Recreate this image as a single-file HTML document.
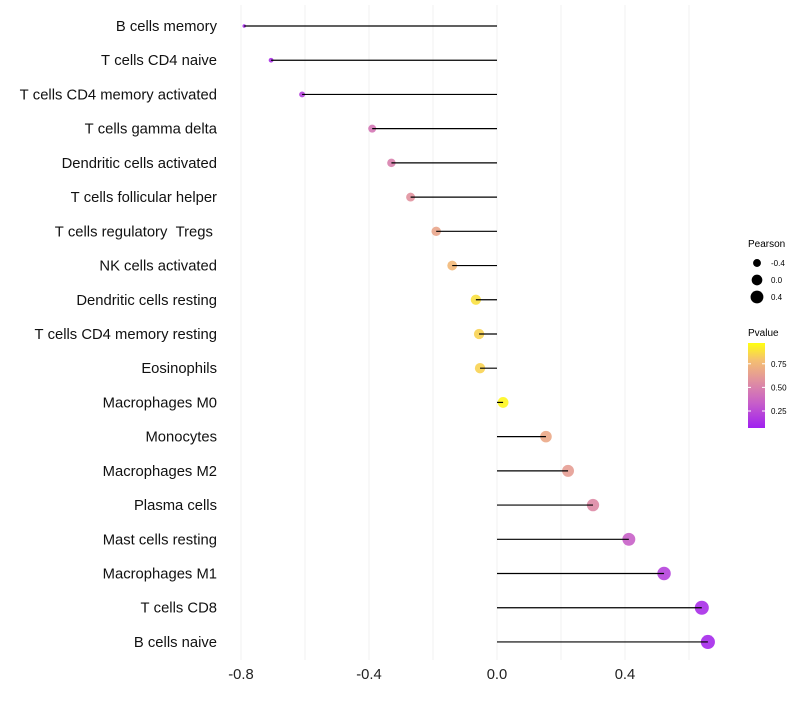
<!DOCTYPE html>
<html><head><meta charset="utf-8"><style>
body{margin:0;background:#fff;font-family:"Liberation Sans",sans-serif}
</style></head><body>
<svg id="c" width="800" height="700" xmlns="http://www.w3.org/2000/svg">
<defs><linearGradient id="pg" x1="0" y1="1" x2="0" y2="0">
<stop offset="0" stop-color="#a020f0"/><stop offset="0.3" stop-color="#c860c8"/><stop offset="0.55" stop-color="#e090a0"/><stop offset="0.8" stop-color="#f5c070"/><stop offset="1" stop-color="#ffff10"/></linearGradient></defs>
</svg>
<script>
const categories=["B cells memory","T cells CD4 naive","T cells CD4 memory activated","T cells gamma delta","Dendritic cells activated","T cells follicular helper","T cells regulatory  Tregs ","NK cells activated","Dendritic cells resting","T cells CD4 memory resting","Eosinophils","Macrophages M0","Monocytes","Macrophages M2","Plasma cells","Mast cells resting","Macrophages M1","T cells CD8","B cells naive"];
const pearson=[-0.79,-0.706,-0.609,-0.39,-0.33,-0.27,-0.19,-0.14,-0.066,-0.056,-0.053,0.019,0.153,0.222,0.30,0.412,0.522,0.64,0.659];
const pvalue=[0.04,0.08,0.15,0.42,0.47,0.56,0.66,0.76,0.9,0.86,0.86,0.97,0.68,0.62,0.52,0.3,0.16,0.06,0.04];
const xTicks=[-0.8,-0.4,0.0,0.4];
const gridVals=[-0.8,-0.6,-0.4,-0.2,0,0.2,0.4,0.6];
const sizeLegend=[-0.4,0.0,0.4];
const pTicks=[0.25,0.5,0.75];
const svg=document.getElementById('c');const NS='http://www.w3.org/2000/svg';
const X=v=>497+v*320;const Y=i=>26+i*34.22;const R=v=>Math.sqrt(Math.max(1.5,28.5+32.2*v));
const PY=p=>428-(p-0.07)/0.9*85;
function col(p){const st=[[0,[160,32,240]],[0.3,[200,96,200]],[0.55,[224,144,160]],[0.8,[245,192,112]],[1,[255,255,16]]];
for(let k=1;k<st.length;k++){if(p<=st[k][0]){const a=st[k-1],b=st[k],t=(p-a[0])/(b[0]-a[0]);return 'rgb('+a[1].map((c,j)=>Math.round(c+(b[1][j]-c)*t)).join(',')+')';}}return 'rgb(255,255,16)';}
function el(t,a,txt){const e=document.createElementNS(NS,t);for(const k in a)e.setAttribute(k,a[k]);if(txt!==undefined)e.textContent=txt;svg.appendChild(e);return e;}
gridVals.forEach(v=>{const g=el('line',{x1:X(v),x2:X(v),y1:5,y2:660,stroke:'#f2f2f2','stroke-width':1});

});
xTicks.forEach(v=>{const t=el('text',{x:X(v),y:679,'text-anchor':'middle','font-size':14.8,fill:'#222'},v.toFixed(1));

});
categories.forEach((c,i)=>{const t=el('text',{x:217,y:Y(i)+5,'text-anchor':'end','font-size':14.8,fill:'#111'},c.replace(/ /g,'\u00a0'));


const d=el('circle',{cx:X(pearson[i]),cy:Y(i),r:R(pearson[i]),fill:col(pvalue[i]),'fill-opacity':0.9});


const l=el('line',{x1:X(0),x2:X(pearson[i]),y1:Y(i),y2:Y(i),stroke:'#000','stroke-width':1.2});

});
let t=el('text',{x:748,y:247,'font-size':10},'Pearson');


sizeLegend.forEach((v,k)=>{const y=263+k*17;const c=el('circle',{cx:757,cy:y,r:R(v),fill:'#000'});


const tt=el('text',{x:771,y:y+3,'font-size':8},v.toFixed(1));

});
t=el('text',{x:748,y:336,'font-size':10},'Pvalue');


const bar=el('rect',{x:748,y:343,width:17,height:85,fill:'url(#pg)'});


pTicks.forEach(p=>{const y=PY(p);el('line',{x1:748,x2:751,y1:y,y2:y,stroke:'#fff'});el('line',{x1:762,x2:765,y1:y,y2:y,stroke:'#fff'});
const tt=el('text',{x:771,y:y+3,'font-size':8},p.toFixed(2));

});
</script>
</body></html>
